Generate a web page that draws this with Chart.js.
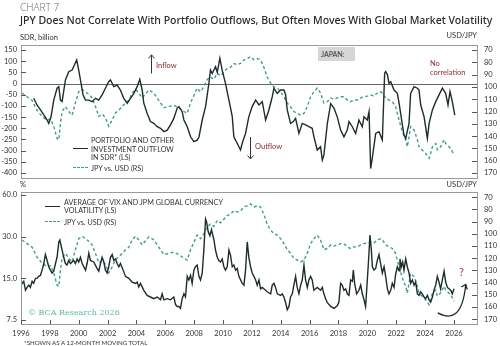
<!DOCTYPE html>
<html>
<head>
<meta charset="utf-8">
<script src="https://cdn.jsdelivr.net/npm/chart.js@4.4.1/dist/chart.umd.min.js"></script>
<style>
body { margin: 0; background: #fff; width: 500px; height: 346px; overflow: hidden; position: relative; font-family: Lato, sans-serif; color: #333; }
canvas { position: absolute; left: 0; top: 0; }
.t { position: absolute; white-space: nowrap; line-height: 1; }
.leg { position: absolute; width: 15px; height: 0; }
</style>
</head>
<body>
<canvas id="topChart" width="500" height="346"></canvas>
<canvas id="bottomChart" width="500" height="346"></canvas>

<div class="t" style="left:20px;top:2px;font-size:10px;color:#777;font-weight:300;font-family:'Noto Sans',sans-serif">CHART 7</div>
<div class="t" id="title" style="left:20px;top:14.5px;font-size:12px;color:#2a2a2a;font-weight:500;font-family:'Noto Sans',sans-serif">JPY Does Not Correlate With Portfolio Outflows, But Often Moves With Global Market Volatility</div>

<div class="t" style="left:20px;top:34px;font-size:7.5px">SDR, billion</div>
<div class="t" style="right:23px;top:32px;font-size:7.5px">USD/JPY</div>
<div class="t" style="left:20px;top:181px;font-size:7.5px">%</div>
<div class="t" style="right:23px;top:181px;font-size:7.5px">USD/JPY</div>

<!-- top legend -->
<div class="leg" style="left:73px;top:148px;border-top:1.5px solid #1e2c2c"></div>
<div class="t" style="left:91px;top:137px;font-size:7.2px;line-height:8.5px">PORTFOLIO AND OTHER<br>INVESTMENT OUTFLOW<br>IN SDR* (LS)</div>
<div class="leg" style="left:73px;top:167px;border-top:1.5px dashed #3f9e88"></div>
<div class="t" style="left:91px;top:164.5px;font-size:7.2px">JPY vs. USD (RS)</div>

<!-- bottom legend -->
<div class="leg" style="left:45px;top:206px;border-top:1.5px solid #1e2c2c"></div>
<div class="t" style="left:64px;top:199px;font-size:7.2px;line-height:8.4px">AVERAGE OF VIX AND JPM GLOBAL CURRENCY<br>VOLATILITY (LS)</div>
<div class="leg" style="left:45px;top:221px;border-top:1.5px dashed #3f9e88"></div>
<div class="t" style="left:64px;top:218.5px;font-size:7.2px">JPY vs. USD (RS)</div>

<div class="t" style="left:156px;top:62px;font-size:7.5px;color:#8b2d2d">Inflow</div>
<div class="t" style="left:255px;top:142.5px;font-size:7.5px;color:#8b2d2d">Outflow</div>
<div class="t" style="left:430px;top:59px;font-size:7.5px;color:#8b2d2d;line-height:9px">No<br>correlation</div>
<div class="t" style="left:318px;top:47px;width:37px;height:14px;background:#d6d6d6;font-size:7px;line-height:14px;padding-left:3px;box-sizing:border-box">JAPAN:</div>

<div class="t" style="left:28px;top:309px;font-size:8px;color:#5db5a7;font-family:'DejaVu Serif',serif">© BCA Research 2026</div>
<div class="t" style="left:24px;top:340px;font-size:6.2px">*SHOWN AS A 12-MONTH MOVING TOTAL</div>
<div class="t" style="left:459px;top:266px;font-size:11px;color:#a33a3a">?</div>

<script>
// title width fit
const titleEl = document.getElementById('title');
const mctx = document.createElement('canvas').getContext('2d');
mctx.font = "500 12px 'Noto Sans'";
titleEl.style.fontSize = (12 * 473 / mctx.measureText(titleEl.textContent).width) + 'px';

const BLACK = '#1e2c2c';
const GREEN = '#3f9e88';

const yearTicks = [1996, 1998, 2000, 2002, 2004, 2006, 2008, 2010, 2012, 2014, 2016, 2018, 2020, 2022, 2024, 2026];
const outflowTicks = [-400, -350, -300, -250, -200, -150, -100, -50, 0, 50, 100, 150];
const usdJpyTicks = [70, 80, 90, 100, 110, 120, 130, 140, 150, 160, 170];
const volTicks = [7.5, 15, 30, 60];

// [year, SDR bn] portfolio and other investment outflow
const outflowPoints = [
  [1996.88,-66],[1997.11,-96],[1997.35,-118],[1997.58,-140],[1997.81,-163],[1997.92,-178],[1998.08,-150],
  [1998.27,-74],[1998.5,-21],[1998.62,-14],[1998.73,-74],[1998.85,-80],[1999.08,16],[1999.31,53],[1999.54,60],
  [1999.7,83],[1999.86,105],[2000.0,60],[2000.12,16],[2000.3,-51],[2000.47,-74],[2000.7,-74],[2000.93,-81],
  [2001.16,-66],[2001.39,-74],[2001.62,-51],[2001.85,-21],[2002.08,8],[2002.2,16],[2002.43,-14],[2002.66,-7],
  [2002.89,-29],[2003.12,-66],[2003.36,-88],[2003.59,-66],[2003.82,-44],[2004.05,-14],[2004.23,19],[2004.4,-30],
  [2004.51,-88],[2004.74,-133],[2004.97,-170],[2005.2,-178],[2005.44,-193],[2005.67,-200],[2005.9,-215],
  [2006.13,-208],[2006.36,-185],[2006.59,-156],[2006.82,-111],[2006.94,-103],[2007.17,-126],[2007.29,-163],
  [2007.52,-193],[2007.75,-238],[2007.98,-260],[2008.21,-253],[2008.33,-240],[2008.56,-163],[2008.79,-103],
  [2009.02,1],[2009.13,60],[2009.25,45],[2009.48,75],[2009.6,50],[2009.78,113],[2009.94,60],[2010.17,1],
  [2010.41,-74],[2010.64,-148],[2010.75,-238],[2010.98,-267],[2011.21,-297],[2011.33,-267],[2011.56,-223],
  [2011.79,-148],[2012.02,-103],[2012.26,-74],[2012.49,-96],[2012.72,-81],[2012.95,-163],[2013.18,-118],
  [2013.41,-59],[2013.53,-21],[2013.76,-44],[2013.99,-29],[2014.22,-29],[2014.34,-51],[2014.45,-118],
  [2014.68,-178],[2014.87,-170],[2015.03,-156],[2015.26,-223],[2015.49,-178],[2015.72,-185],[2015.95,-193],
  [2016.18,-200],[2016.3,-238],[2016.53,-297],[2016.76,-282],[2016.88,-342],[2016.99,-320],[2017.23,-178],
  [2017.46,-90],[2017.69,-110],[2017.92,-150],[2018.15,-208],[2018.38,-238],[2018.61,-208],[2018.73,-170],
  [2018.96,-193],[2019.19,-223],[2019.42,-163],[2019.65,-193],[2019.77,-148],[2020.0,-163],[2020.12,-126],
  [2020.23,-380],[2020.35,-330],[2020.58,-223],[2020.81,-215],[2021.04,-252],[2021.2,46],[2021.27,53],
  [2021.39,40],[2021.5,1],[2021.62,8],[2021.85,-29],[2022.08,-44],[2022.2,-88],[2022.43,-185],[2022.54,-230],
  [2022.66,-245],[2022.89,-178],[2023.0,-44],[2023.24,-14],[2023.47,-21],[2023.58,-29],[2023.7,-96],
  [2023.93,-148],[2024.16,-245],[2024.28,-178],[2024.51,-118],[2024.74,-81],[2024.97,-51],[2025.2,-21],
  [2025.43,-44],[2025.59,-96],[2025.73,-36],[2025.89,-81],[2026.06,-141]
];

// [year, USD/JPY]
const jpyPoints = [
  [1996.07,105],[1996.42,108],[1996.77,111],[1997.11,119],[1997.46,124],[1997.81,127],[1998.04,126],
  [1998.27,132],[1998.5,142],[1998.62,143],[1998.73,130],[1998.85,120],[1999.08,116],[1999.31,120],
  [1999.54,123],[1999.77,113],[2000.0,104],[2000.23,102],[2000.47,104],[2000.7,106],[2000.93,109],
  [2001.16,116],[2001.39,124],[2001.62,122],[2001.85,125],[2002.08,132],[2002.32,127],[2002.55,121],
  [2002.78,119],[2003.01,116],[2003.24,113],[2003.47,111],[2003.7,105],[2003.93,102],[2004.16,105],
  [2004.4,109],[2004.86,102.5],[2005.2,105],[2005.55,111],[2005.9,117],[2006.24,116],[2006.59,115],
  [2006.94,117],[2007.29,120],[2007.52,121.5],[2007.75,113],[2007.98,107],[2008.21,101],[2008.44,104],
  [2008.67,100],[2008.9,94],[2009.13,92],[2009.36,94],[2009.6,89],[2009.83,91],[2010.06,88],[2010.29,85],
  [2010.52,84],[2010.75,81],[2010.98,82],[2011.21,81],[2011.45,78],[2011.68,77],[2011.91,75.5],[2012.14,78],
  [2012.37,77],[2012.6,78],[2012.83,84],[2013.06,92],[2013.3,97],[2013.53,100],[2013.76,101],[2013.99,104],
  [2014.22,108],[2014.45,113],[2014.68,116],[2014.91,120],[2015.14,121.5],[2015.38,123],[2015.61,121.5],
  [2015.84,116],[2016.07,108],[2016.3,104],[2016.53,101],[2016.76,105],[2016.99,113],[2017.23,112],
  [2017.46,109],[2017.69,110],[2017.92,109],[2018.15,108],[2018.38,108],[2018.61,110.7],[2018.84,112],
  [2019.07,110.7],[2019.31,110.7],[2019.54,109],[2019.77,108],[2020.0,107.5],[2020.23,106.6],[2020.46,107.5],
  [2020.69,105],[2020.92,104],[2021.04,105],[2021.27,109],[2021.5,110.7],[2021.73,112],[2021.96,116],
  [2022.2,127],[2022.43,136.4],[2022.66,143],[2022.77,148.6],[2022.89,140.5],[2023.0,132.3],[2023.24,135],
  [2023.47,143],[2023.58,148.6],[2023.81,151.3],[2024.04,154],[2024.28,158],[2024.39,154],[2024.51,148.6],
  [2024.74,146],[2024.85,151],[2025.08,148.6],[2025.32,143],[2025.43,146],[2025.66,148.6],[2025.78,150],
  [2026.01,155.4]
];

// [year, %] average of VIX and JPM global currency volatility
const volPoints = [
  [1996.0,13.4],[1996.19,14.3],[1996.31,12.3],[1996.42,12.9],[1996.54,13.4],[1996.65,12.9],[1996.77,14.3],
  [1996.88,13.8],[1997.0,15.0],[1997.11,15.0],[1997.23,15.5],[1997.35,15.8],[1997.46,17.2],[1997.58,19.2],
  [1997.69,22.3],[1997.81,20.2],[1997.92,18.2],[1998.04,17.2],[1998.15,16.4],[1998.27,16.9],[1998.39,19.2],
  [1998.5,21.3],[1998.62,27.5],[1998.69,28.4],[1998.85,24.0],[1998.96,21.3],[1999.08,19.2],[1999.19,18.7],
  [1999.31,20.2],[1999.43,19.2],[1999.54,19.7],[1999.65,20.2],[1999.77,19.2],[1999.89,20.7],[2000.0,19.7],
  [2000.12,21.3],[2000.24,19.2],[2000.35,18.2],[2000.47,17.2],[2000.58,19.2],[2000.7,22.8],[2000.81,20.2],
  [2001.04,19.7],[2001.27,17.7],[2001.39,16.9],[2001.51,19.2],[2001.62,21.3],[2001.74,19.7],[2001.85,17.2],
  [2001.97,16.4],[2002.08,18.2],[2002.2,21.3],[2002.32,22.3],[2002.43,20.2],[2002.55,20.7],[2002.66,19.2],
  [2002.78,18.2],[2002.89,19.2],[2003.08,17.2],[2003.24,15.5],[2003.47,15.0],[2003.7,14.1],[2003.93,13.8],
  [2004.05,14.1],[2004.16,13.0],[2004.28,13.8],[2004.51,12.3],[2004.74,11.3],[2004.97,11.0],[2005.2,10.7],
  [2005.44,11.0],[2005.67,10.5],[2005.78,11.6],[2005.9,10.5],[2006.13,10.7],[2006.36,10.5],[2006.59,11.0],
  [2006.71,9.7],[2006.82,9.4],[2006.94,9.4],[2007.05,9.1],[2007.17,10.7],[2007.29,11.6],[2007.4,11.0],
  [2007.52,15.5],[2007.63,14.6],[2007.75,15.8],[2007.86,13.8],[2007.98,17.2],[2008.09,18.2],[2008.21,18.7],
  [2008.33,15.5],[2008.44,14.6],[2008.56,16.4],[2008.67,24.0],[2008.79,40.3],[2008.86,38.4],[2008.97,32.7],
  [2009.09,30.5],[2009.2,33.7],[2009.37,28.4],[2009.48,24.0],[2009.6,21.3],[2009.71,20.2],[2009.83,19.7],
  [2009.94,20.7],[2010.06,18.2],[2010.17,17.2],[2010.29,18.2],[2010.41,24.0],[2010.52,22.0],[2010.64,18.2],
  [2010.75,18.7],[2010.87,17.2],[2010.98,17.7],[2011.1,15.5],[2011.33,13.8],[2011.45,13.4],[2011.56,17.2],
  [2011.68,27.5],[2011.79,21.3],[2011.91,18.2],[2012.02,16.4],[2012.14,15.5],[2012.26,14.6],[2012.37,13.4],
  [2012.49,14.6],[2012.6,12.6],[2012.72,12.9],[2012.83,12.6],[2013.06,12.0],[2013.3,11.6],[2013.41,13.4],
  [2013.53,13.8],[2013.64,12.9],[2013.76,11.6],[2013.99,11.3],[2014.1,11.6],[2014.22,11.0],[2014.34,10.0],
  [2014.45,8.9],[2014.57,9.4],[2014.68,11.0],[2014.8,11.6],[2014.91,13.4],[2015.03,15.5],[2015.14,12.9],
  [2015.26,11.6],[2015.38,13.4],[2015.49,14.6],[2015.61,18.7],[2015.72,14.6],[2015.84,12.9],[2015.95,14.6],
  [2016.07,15.5],[2016.18,14.6],[2016.3,12.3],[2016.42,12.6],[2016.53,12.9],[2016.76,12.3],[2016.88,12.9],
  [2016.99,11.6],[2017.11,10.7],[2017.23,10.0],[2017.46,9.4],[2017.69,9.1],[2017.92,9.5],[2018.03,10.1],
  [2018.15,13.8],[2018.26,13.4],[2018.38,12.3],[2018.5,12.6],[2018.61,11.6],[2018.73,11.3],[2018.84,14.6],
  [2018.96,14.3],[2019.03,17.2],[2019.12,13.8],[2019.26,11.6],[2019.42,12.3],[2019.54,13.4],[2019.65,11.6],
  [2019.77,10.5],[2019.88,9.4],[2020.0,14.6],[2020.11,22.3],[2020.18,30.8],[2020.28,24.0],[2020.35,18.2],
  [2020.46,17.2],[2020.58,17.7],[2020.69,20.2],[2020.81,22.3],[2020.92,19.2],[2021.04,16.4],[2021.16,18.2],
  [2021.27,15.5],[2021.39,12.6],[2021.5,11.6],[2021.62,12.3],[2021.73,13.8],[2021.85,12.9],[2021.96,16.0],
  [2022.08,18.2],[2022.2,17.0],[2022.26,20.7],[2022.36,18.2],[2022.45,19.7],[2022.54,17.2],[2022.66,20.7],
  [2022.77,18.2],[2022.89,16.4],[2023.0,13.8],[2023.12,14.6],[2023.24,13.4],[2023.35,14.1],[2023.47,11.6],
  [2023.58,11.3],[2023.7,12.0],[2023.81,11.6],[2023.93,11.0],[2024.04,10.7],[2024.16,11.3],[2024.28,10.5],
  [2024.39,10.1],[2024.51,11.0],[2024.62,12.3],[2024.74,13.4],[2024.85,15.5],[2024.97,14.1],[2025.08,12.6],
  [2025.2,14.6],[2025.32,16.9],[2025.43,14.1],[2025.55,12.9],[2025.66,12.6],[2025.78,12.3],[2025.89,11.6],
  [2026.01,12.6]
];

function pts(arr) { return arr.map(p => ({ x: p[0], y: p[1] })); }

const tickFont = { family: 'Lato', size: 7.5 };
const lineStyle = { pointRadius: 0, borderWidth: 1.4, tension: 0, fill: false };

function setTicks(list) {
  return s => { s.ticks = list.map(v => ({ value: v })); };
}

// box, inward ticks
function drawFrame(chart, withXTicks) {
  const ctx = chart.ctx, a = chart.chartArea, sc = chart.scales;
  ctx.save();
  ctx.strokeStyle = '#9a9a9a';
  ctx.lineWidth = 1;
  ctx.strokeRect(a.left + 0.5, a.top + 0.5, a.right - a.left, a.bottom - a.top);
  ctx.strokeStyle = '#555';
  ctx.beginPath();
  sc.yL.ticks.forEach(t => {
    const y = Math.round(sc.yL.getPixelForValue(t.value)) + 0.5;
    ctx.moveTo(a.left, y); ctx.lineTo(a.left + 5, y);
  });
  sc.yR.ticks.forEach(t => {
    const y = Math.round(sc.yR.getPixelForValue(t.value)) + 0.5;
    ctx.moveTo(a.right - 5, y); ctx.lineTo(a.right, y);
  });
  if (withXTicks) {
    sc.x.ticks.forEach(t => {
      const x = Math.round(sc.x.getPixelForValue(t.value)) + 0.5;
      ctx.moveTo(x, a.bottom); ctx.lineTo(x, a.bottom - 4);
    });
  }
  ctx.stroke();
  ctx.restore();
}

function vArrow(ctx, x, y1, y2) {
  const d = y2 < y1 ? 1 : -1;
  ctx.beginPath();
  ctx.moveTo(x, y1); ctx.lineTo(x, y2);
  ctx.moveTo(x - 3, y2 + 3.5 * d); ctx.lineTo(x, y2); ctx.lineTo(x + 3, y2 + 3.5 * d);
  ctx.stroke();
}

const topDecor = {
  id: 'topDecor',
  beforeDatasetsDraw(chart) {
    const ctx = chart.ctx, a = chart.chartArea, yL = chart.scales.yL;
    const y0 = Math.round(yL.getPixelForValue(0)) + 0.5;
    ctx.save();
    ctx.strokeStyle = '#666';
    ctx.lineWidth = 1;
    ctx.beginPath(); ctx.moveTo(a.left, y0); ctx.lineTo(a.right, y0); ctx.stroke();
    ctx.restore();
  },
  afterDraw(chart) {
    drawFrame(chart, false);
    const ctx = chart.ctx, x = chart.scales.x, yL = chart.scales.yL;
    ctx.save();
    ctx.strokeStyle = '#333';
    ctx.lineWidth = 1;
    vArrow(ctx, Math.round(x.getPixelForValue(2005.04)) + 0.5, yL.getPixelForValue(45), yL.getPixelForValue(128));
    vArrow(ctx, Math.round(x.getPixelForValue(2011.84)) + 0.5, yL.getPixelForValue(-239), yL.getPixelForValue(-337));
    ctx.restore();
  }
};

const bottomDecor = {
  id: 'bottomDecor',
  afterDraw(chart) {
    drawFrame(chart, true);
    const ctx = chart.ctx, x = chart.scales.x, yR = chart.scales.yR;
    const P = (yr, v) => [x.getPixelForValue(yr), yR.getPixelForValue(v)];
    const s = P(2024.88, 164.8), c1 = P(2025.8, 170.8), c2 = P(2026.6, 168), e = P(2026.82, 141.5);
    ctx.save();
    ctx.strokeStyle = '#1e2c2c';
    ctx.lineWidth = 1.3;
    ctx.beginPath();
    ctx.moveTo(s[0], s[1]);
    ctx.bezierCurveTo(c1[0], c1[1], c2[0], c2[1], e[0], e[1]);
    ctx.stroke();
    ctx.beginPath();
    ctx.moveTo(e[0] - 4.5, e[1] + 2.5); ctx.lineTo(e[0], e[1]); ctx.lineTo(e[0] + 1.5, e[1] + 5);
    ctx.stroke();
    ctx.restore();
  }
};

new Chart(document.getElementById('topChart'), {
  type: 'line',
  data: {
    datasets: [
      { label: 'Portfolio and other investment outflow', data: pts(outflowPoints), yAxisID: 'yL', borderColor: BLACK, ...lineStyle },
      { label: 'JPY vs. USD', data: pts(jpyPoints), yAxisID: 'yR', borderColor: GREEN, borderDash: [3, 2.5], ...lineStyle }
    ]
  },
  options: {
    responsive: false,
    animation: false,
    layout: { padding: { top: 45, bottom: 168, left: 0, right: 0 } },
    plugins: { legend: { display: false }, tooltip: { enabled: false } },
    scales: {
      x: { type: 'linear', min: 1996, max: 2027.6, display: false },
      yL: {
        position: 'left', min: -422, max: 172,
        grid: { display: false, drawTicks: false }, border: { display: false },
        afterBuildTicks: setTicks(outflowTicks),
        afterFit: s => { s.width = 21; },
        ticks: { font: tickFont, color: '#333', padding: 4 }
      },
      yR: {
        position: 'right', reverse: true, min: 66, max: 174,
        grid: { display: false, drawTicks: false }, border: { display: false },
        afterBuildTicks: setTicks(usdJpyTicks),
        afterFit: s => { s.width = 23; },
        ticks: { font: tickFont, color: '#333', padding: 7 }
      }
    }
  },
  plugins: [topDecor]
});

new Chart(document.getElementById('bottomChart'), {
  type: 'line',
  data: {
    datasets: [
      { label: 'Average of VIX and JPM global currency volatility', data: pts(volPoints), yAxisID: 'yL', borderColor: BLACK, ...lineStyle },
      { label: 'JPY vs. USD', data: pts(jpyPoints), yAxisID: 'yR', borderColor: GREEN, borderDash: [3, 2.5], ...lineStyle }
    ]
  },
  options: {
    responsive: false,
    animation: false,
    layout: { padding: { top: 192, bottom: 0, left: 0, right: 0 } },
    plugins: { legend: { display: false }, tooltip: { enabled: false } },
    scales: {
      x: {
        type: 'linear', min: 1996, max: 2027.6,
        grid: { display: false, drawTicks: false }, border: { display: false },
        afterBuildTicks: setTicks(yearTicks),
        afterFit: s => { s.height = 22; },
        ticks: { font: tickFont, color: '#333', padding: 5, maxRotation: 0, callback: v => String(v) }
      },
      yL: {
        type: 'logarithmic', position: 'left', min: 7.02, max: 63.1,
        grid: { display: false, drawTicks: false }, border: { display: false },
        afterBuildTicks: setTicks(volTicks),
        afterFit: s => { s.width = 21; },
        ticks: { font: tickFont, color: '#333', padding: 4, callback: v => Number(v).toFixed(1) }
      },
      yR: {
        position: 'right', reverse: true, min: 65.7, max: 173.9,
        grid: { display: false, drawTicks: false }, border: { display: false },
        afterBuildTicks: setTicks(usdJpyTicks),
        afterFit: s => { s.width = 23; },
        ticks: { font: tickFont, color: '#333', padding: 7 }
      }
    }
  },
  plugins: [bottomDecor]
});
</script>
</body>
</html>
